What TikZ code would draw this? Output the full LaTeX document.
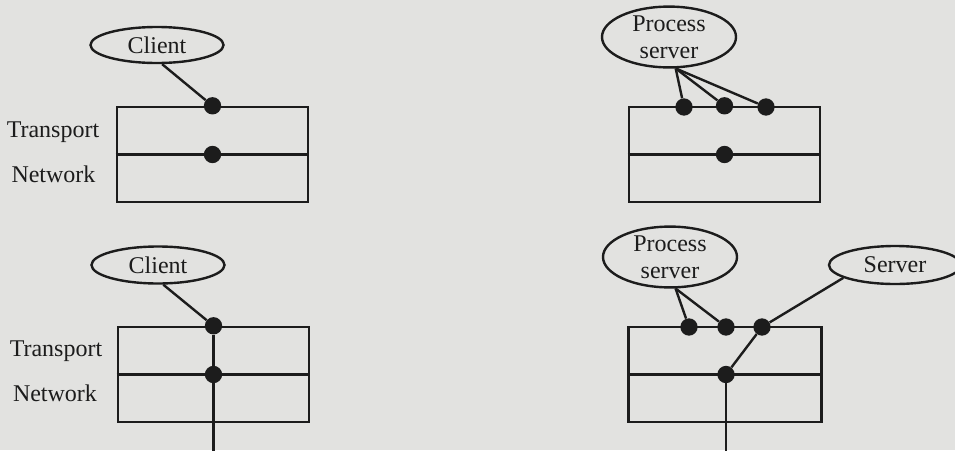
\documentclass[tikz,border=0pt]{standalone}
\usepackage{fontspec}
\setmainfont{Liberation Serif}
\usetikzlibrary{shapes.geometric}
\definecolor{paper}{RGB}{226,226,224}
\definecolor{ink}{RGB}{28,28,28}
\begin{document}
\begin{tikzpicture}[x=0.75pt,y=-0.75pt,
  every node/.style={font=\fontsize{18}{20.3}\selectfont, text=ink},
  wire/.style={draw=ink, line width=1.8pt},
  entity/.style={ellipse, draw=ink, line width=1.8pt, inner sep=0pt, align=center},
  layerbox/.style={rectangle, draw=ink, line width=1.8pt, inner sep=0pt,
    minimum width=143.5pt, minimum height=71.25pt},
  sap/.style={circle, fill=ink, inner sep=0pt, minimum size=13pt},
  lbl/.style={inner sep=0pt}]

% paper and page frame
\fill[paper] (0,0) rectangle (955,450);
\useasboundingbox (0,0) rectangle (955,450);

% ---------- upper figure: client and process server ----------
\node[entity, minimum width=99.75pt, minimum height=27pt] (cl1) at (157,45) {Client};
\node[layerbox] (b1) at (212.5,154.5) {};
\draw[wire] (b1.west) -- (b1.east);
\node[sap] (t1) at (b1.north) {};
\node[sap] (n1) at (b1.center) {};
\draw[wire] (cl1.-75) -- (t1);
\node[lbl] at (53,132) {Transport};
\node[lbl] at (53.5,174) {Network};

\node[entity, minimum width=100.5pt, minimum height=40pt] (ps1) at (669,37) {Process\\server};
\node[layerbox] (b2) at (724.5,154.5) {};
\draw[wire] (b2.west) -- (b2.east);
\node[sap] (t2a) at (684,107) {};
\node[sap] (t2b) at (b2.north) {};
\node[sap] (t2c) at (766,107) {};
\node[sap] (n2) at (b2.center) {};
\coordinate (ps1f) at (ps1.-78);
\draw[wire] (ps1f) -- (t2a);
\draw[wire] (ps1f) -- (t2b);
\draw[wire] (ps1f) -- (t2c);

% ---------- lower figure: client, process server and server ----------
\node[entity, minimum width=99.75pt, minimum height=27.75pt] (cl2) at (158,265) {Client};
\node[layerbox] (b3) at (213.5,374.5) {};
\draw[wire] (b3.west) -- (b3.east);
\node[sap] (t3) at (b3.north) {};
\node[sap] (n3) at (b3.center) {};
\coordinate (d3) at (213.5,452);
\draw[wire] (cl2.-75) -- (t3);
\draw[wire] (t3) -- (n3);
\draw[wire] (n3) -- (d3);
\node[lbl] at (56,351) {Transport};
\node[lbl] at (55,393) {Network};

\node[entity, minimum width=100.5pt, minimum height=40.5pt] (ps2) at (670,257) {Process\\server};
\node[entity, minimum width=99pt, minimum height=28.5pt] (srv) at (895,265) {Server};
\node[layerbox, minimum width=144.5pt] (b4) at (725,374.5) {};
\draw[wire] (b4.west) -- (b4.east);
\node[sap] (t4a) at (689,327) {};
\node[sap] (t4b) at (726,327) {};
\node[sap] (t4c) at (762,327) {};
\node[sap] (n4) at (726,374.5) {};
\coordinate (ps2f) at (ps2.-80);
\coordinate (d4) at (726,452);
\draw[wire] (ps2f) -- (t4a);
\draw[wire] (ps2f) -- (t4b);
\draw[wire] (srv.194) -- (t4c);
\draw[wire] (t4c) -- (n4);
\draw[wire] (n4) -- (d4);
\end{tikzpicture}
\end{document}
